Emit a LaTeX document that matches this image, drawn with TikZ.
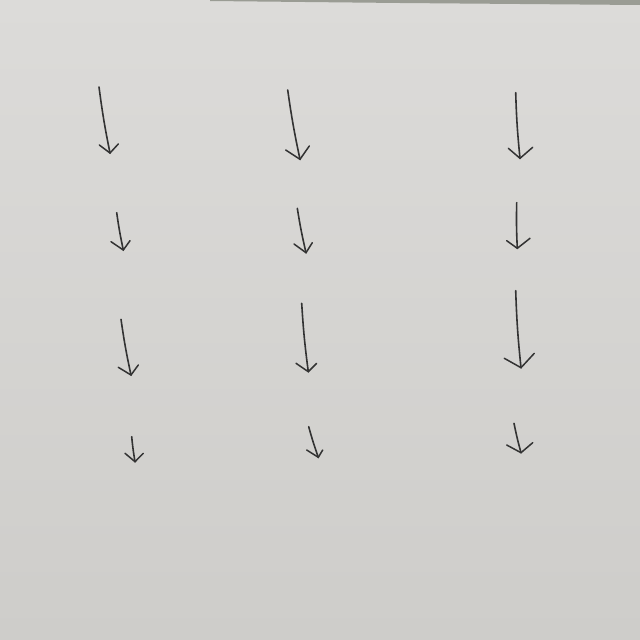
\documentclass[tikz,border=0pt]{standalone}
\begin{document}
\begin{tikzpicture}[x=1pt,y=-1pt,
  ink/.style={draw=black!80,line width=1.6pt,line cap=round,line join=round},
  wing/.style={draw=black!80,line width=1.5pt,line cap=round}]
\definecolor{paperA}{RGB}{220,219,217}
\definecolor{paperB}{RGB}{206,205,202}
\definecolor{edgeStrip}{RGB}{110,114,102}
\useasboundingbox (0,0) rectangle (640,640);
\shade[top color=paperA,bottom color=paperB] (0,0) rectangle (640,640);
\fill[edgeStrip,opacity=0.6] (210,0) -- (640,0) -- (640,5) -- (400,3) -- (210,1) -- cycle;
% name/start/tip/left wing/right wing
\foreach \n/\sx/\sy/\tx/\ty/\lx/\ly/\rx/\ry in {
  a11/99/87/110/153/99.3/145/118.3/144,
  a21/287.7/90/300/159.3/285.7/150/309.3/146,
  a31/515.7/92.7/520/158.3/508.3/148.3/532.7/147.3,
  a12/116.7/212.7/123.3/250/111/241.7/130/240.7,
  a22/297.3/208.3/306/252.7/294/244/312.3/242.7,
  a32/516.7/202.7/517.3/248.3/506.7/240.7/530/238.3,
  a13/121/319.3/131/375/118.3/367.3/138.3/365,
  a23/301.7/303.3/308.3/371.7/296/363.3/316.7/363.3,
  a33/515.7/290.7/521/367.7/504.3/358.3/534.3/353.3,
  a14/131.7/436.7/135/461.7/125/453.3/143.3/453.3,
  a24/308.7/426.7/318.3/457.3/306.7/450/322.7/450,
  a34/514/423.3/521/452.7/506.7/445/532.7/442.7}{
  \coordinate (\n s) at (\sx,\sy);
  \coordinate (\n t) at (\tx,\ty);
  \coordinate (\n l) at (\lx,\ly);
  \coordinate (\n r) at (\rx,\ry);
  \draw[ink] (\n s) to[bend right=2] (\n t);
  \draw[wing] (\n l) -- (\n t) -- (\n r);
}
\end{tikzpicture}
\end{document}
